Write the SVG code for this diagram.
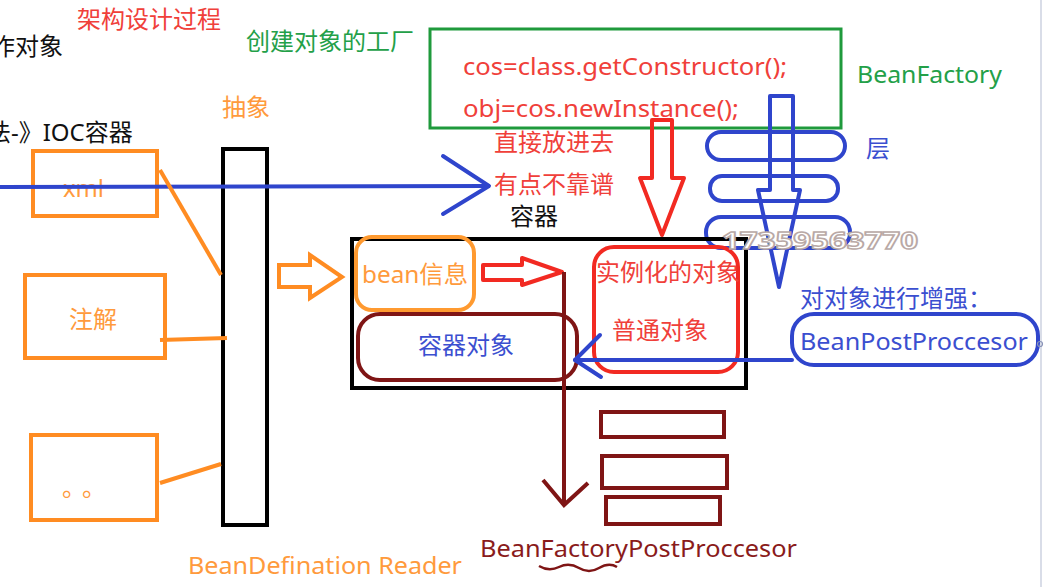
<svg xmlns="http://www.w3.org/2000/svg" width="1047" height="587" viewBox="0 0 1047 587">
<style>
text{font-family:"Noto Sans","Noto Sans CJK SC",sans-serif;font-size:24px}
.zh{font-size:24px}
.red{fill:#f0403a}
.org{fill:#ff9a3c}
.grn{fill:#23a048}
.blu{fill:#3b4fd0}
.blk{fill:#111}
.dr{fill:#8a1b1b}
.so{fill:none;stroke:#ff8c22;stroke-width:4}
.sb{fill:none;stroke:#2f45cc;stroke-width:4;stroke-linejoin:round;stroke-linecap:round}
.sr{fill:none;stroke:#f22a22;stroke-width:4;stroke-linejoin:round}
.sd{fill:none;stroke:#7f1515;stroke-width:4}
.sk{fill:none;stroke:#000;stroke-width:4}
</style>
<rect width="1047" height="587" fill="#fff"/>
<line x1="1041" y1="0" x2="1041" y2="587" stroke="#d9dde8" stroke-width="2"/>

<g id="titles">
<text class="zh red" x="77" y="28">架构设计过程</text>
<text class="zh blk" x="-9" y="55">作对象</text>
<text class="zh blk" x="-13" y="141">法-》IOC容器</text>
<text class="zh grn" x="246" y="50">创建对象的工厂</text>
<text class="zh org" x="222" y="116">抽象</text>
</g>

<g id="factory">
<rect x="430" y="29" width="411" height="99" fill="none" stroke="#1f9a3c" stroke-width="3"/>
<text class="red" x="463" y="75" textLength="324" lengthAdjust="spacingAndGlyphs">cos=class.getConstructor();</text>
<text class="red" x="463" y="117" textLength="276" lengthAdjust="spacingAndGlyphs">obj=cos.newInstance();</text>
</g>
<text id="beanfactory" class="grn" x="857" y="83" textLength="145" lengthAdjust="spacingAndGlyphs">BeanFactory</text>
<g id="notes">
<text class="zh red" x="494" y="151">直接放进去</text>
<text class="zh red" x="494" y="193">有点不靠谱</text>
<text class="zh blk" x="510" y="225" font-size="23">容器</text>
</g>

<g id="layers">
<rect x="707" y="132" width="138" height="28" rx="14" class="sb"/>
<rect x="710" y="176" width="128" height="25" rx="12" class="sb"/>
<rect x="706" y="217" width="144" height="31" rx="15" class="sb"/>
<text class="zh blu" x="866" y="157">层</text>
</g>

<g id="xml"><rect x="33" y="151" width="124" height="65" class="so"/><text class="org" x="63" y="197" font-size="21" textLength="41" lengthAdjust="spacingAndGlyphs">xml</text></g>
<g id="annotation"><rect x="25" y="275" width="140" height="83" class="so"/><text class="zh org" x="69" y="328">注解</text></g>
<g id="etc"><rect x="31" y="435" width="126" height="85" class="so"/><text class="org" x="62" y="496" font-size="18" letter-spacing="8">。。</text></g>
<g id="reader"><rect x="223" y="149" width="44" height="376" class="sk"/><text class="org" x="188" y="574" textLength="274" lengthAdjust="spacingAndGlyphs">BeanDefination Reader</text></g>

<g id="container">
<rect x="352" y="239" width="394" height="149" class="sk"/>
</g>
<g id="beaninfo"><rect x="356" y="237" width="118" height="73" rx="16" fill="none" stroke="#ff9a30" stroke-width="4"/><text class="org" x="362" y="283" textLength="106" lengthAdjust="spacingAndGlyphs">bean信息</text></g>
<g id="containerobj"><rect x="358" y="314" width="219" height="66" rx="22" class="sd"/><text class="zh blu" x="418" y="354">容器对象</text></g>
<g id="instance"><rect x="594" y="247" width="144" height="125" rx="20" class="sr"/><text class="zh red" x="596" y="281">实例化的对象</text><text class="zh red" x="612" y="339">普通对象</text></g>
<g id="enhance"><text class="zh blu" x="800" y="307">对对象进行增强：</text></g>
<g id="postprocessor"><rect x="792" y="314" width="246" height="51" rx="22" class="sb"/><text class="blu" x="800" y="350" textLength="228" lengthAdjust="spacingAndGlyphs">BeanPostProccesor</text></g>
<circle cx="1040" cy="344" r="2.5" fill="none" stroke="#8a94b8" stroke-width="1.2"/>

<g id="bfpp">
<rect x="601" y="412" width="123" height="25" class="sd"/>
<rect x="602" y="456" width="125" height="32" class="sd"/>
<rect x="606" y="497" width="114" height="27" class="sd"/>
<text class="dr" x="480" y="557" textLength="317" lengthAdjust="spacingAndGlyphs">BeanFactoryPostProccesor</text>
<path d="M539 566 q10 6 20 1 t20 1 t20 0 t18 -1" fill="none" stroke="#7f1515" stroke-width="2.5"/>
</g>

<g id="connectors">
<line x1="0" y1="187" x2="488" y2="186" class="sb" stroke-width="3"/>
<polyline points="443,156 489,186 443,214" class="sb"/>
<line x1="160" y1="170" x2="221" y2="275" class="so"/>
<line x1="160" y1="340" x2="227" y2="338" class="so"/>
<line x1="160" y1="483" x2="221" y2="464" class="so"/>
<polygon points="279,265 310,265 310,255 342,277 310,298 310,287 279,287" class="so"/>
<polygon points="483,265 522,265 522,258 562,272 522,285 522,280 483,280" class="sr"/>
<polygon points="652,120 672,120 672,178 684,178 662,235 640,178 652,178" class="sr"/>
<polygon points="770,96 793,96 793,190 800,190 779,287 758,190 770,190" class="sb"/>
<line x1="564" y1="272" x2="564" y2="505" class="sd"/>
<polyline points="543,480 564,505 588,483" class="sd"/>
<line x1="792" y1="360" x2="575" y2="360" class="sb"/>
<polyline points="600,335 575,360 601,377" class="sb"/>
</g>

<text x="722" y="249" font-size="27" font-weight="bold" fill="#fff" stroke="#b9a9a6" stroke-width="1.5" textLength="196" lengthAdjust="spacingAndGlyphs">17359563770</text>
</svg>
